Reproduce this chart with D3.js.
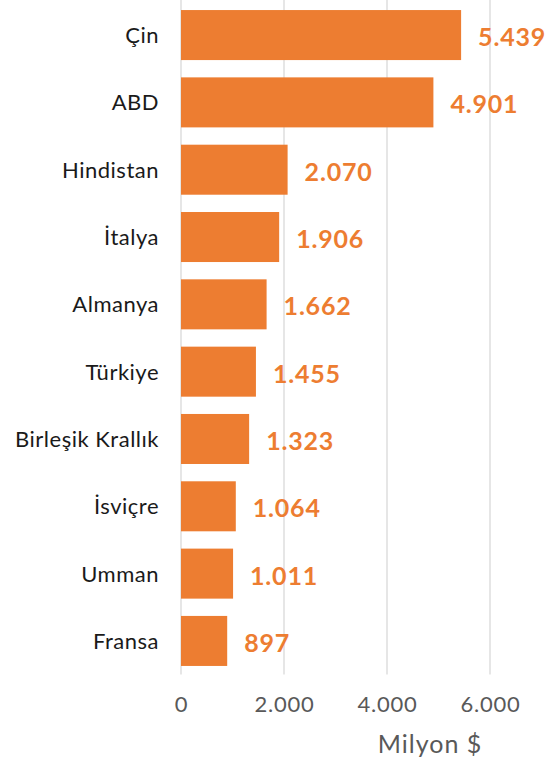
<!DOCTYPE html>
<html>
<head>
<meta charset="utf-8">
<script src="https://cdn.jsdelivr.net/npm/d3@7"></script>
<style>
  body { margin: 0; background: #fff; }
  svg text { font-family: "Lato", "DejaVu Sans", sans-serif; }
</style>
</head>
<body>
<div id="grafico"></div>
<script>
// ülkeler ve değerler (milyon $)
const ulkeler = ["Çin", "ABD", "Hindistan", "İtalya", "Almanya", "Türkiye", "Birleşik Krallık", "İsviçre", "Umman", "Fransa"];
const degerler = [5439, 4901, 2070, 1906, 1662, 1455, 1323, 1064, 1011, 897];
const tikler = [0, 2000, 4000, 6000];
const eksenBasligi = "Milyon $";

const width = 548;
const height = 762;
const sol = 181, sag = 490;
const ust = 1.4, alt = 674.6;

const noktali = d => d3.format(",")(d).replace(/,/g, ".");

const svg = d3.select("#grafico")
    .append("svg")
    .attr("width", width)
    .attr("height", height);

const xScale = d3.scaleLinear()
    .domain([0, 6000])
    .range([sol, sag]);

const yScale = d3.scaleBand()
    .domain(ulkeler)
    .range([ust, alt])
    .paddingInner(0.257)
    .paddingOuter(0.1285);

// ızgara çizgileri
svg.selectAll(".grid")
    .data(tikler)
    .enter().append("line")
    .attr("x1", d => xScale(d))
    .attr("x2", d => xScale(d))
    .attr("y1", 0)
    .attr("y2", alt)
    .attr("stroke", "#d9d9d9")
    .attr("stroke-width", 1.3);

// barlar
svg.selectAll(".bar")
    .data(degerler)
    .enter().append("rect")
    .attr("x", xScale(0))
    .attr("y", (d, i) => yScale(ulkeler[i]))
    .attr("width", d => xScale(d) - xScale(0))
    .attr("height", yScale.bandwidth())
    .attr("fill", "#ed7d31");

// değer etiketleri
svg.selectAll(".deger")
    .data(degerler)
    .enter().append("text")
    .attr("x", d => xScale(d) + 17)
    .attr("y", (d, i) => yScale(ulkeler[i]) + yScale.bandwidth() / 2 + 11)
    .attr("fill", "#ed7d31")
    .attr("font-weight", "bold")
    .attr("font-size", 25)
    .attr("letter-spacing", 0.8)
    .text(d => noktali(d));

// kategori ekseni
const yAxis = svg.append("g")
    .attr("transform", `translate(${sol - 22},0)`)
    .call(d3.axisLeft(yScale).tickSize(0).tickPadding(0));
yAxis.select(".domain").remove();
yAxis.selectAll("text")
    .attr("font-size", 22)
    .attr("letter-spacing", 0.5)
    .attr("fill", "#1a1a1a")
    .attr("dy", "0.36em")
    .style("font-family", "Lato, 'DejaVu Sans', sans-serif");

// değer ekseni
const xAxis = svg.append("g")
    .attr("transform", `translate(0,${alt})`)
    .call(d3.axisBottom(xScale).tickValues(tikler).tickSize(0).tickPadding(22)
        .tickFormat(noktali));
xAxis.select(".domain").remove();
xAxis.selectAll("text")
    .attr("font-size", 22)
    .attr("letter-spacing", 0.8)
    .attr("fill", "#595959")
    .style("font-family", "Lato, 'DejaVu Sans', sans-serif");

svg.append("text")
    .attr("x", 430)
    .attr("y", 753)
    .attr("text-anchor", "middle")
    .attr("font-size", 25)
    .attr("letter-spacing", 1)
    .attr("fill", "#595959")
    .text(eksenBasligi);
</script>
</body>
</html>
